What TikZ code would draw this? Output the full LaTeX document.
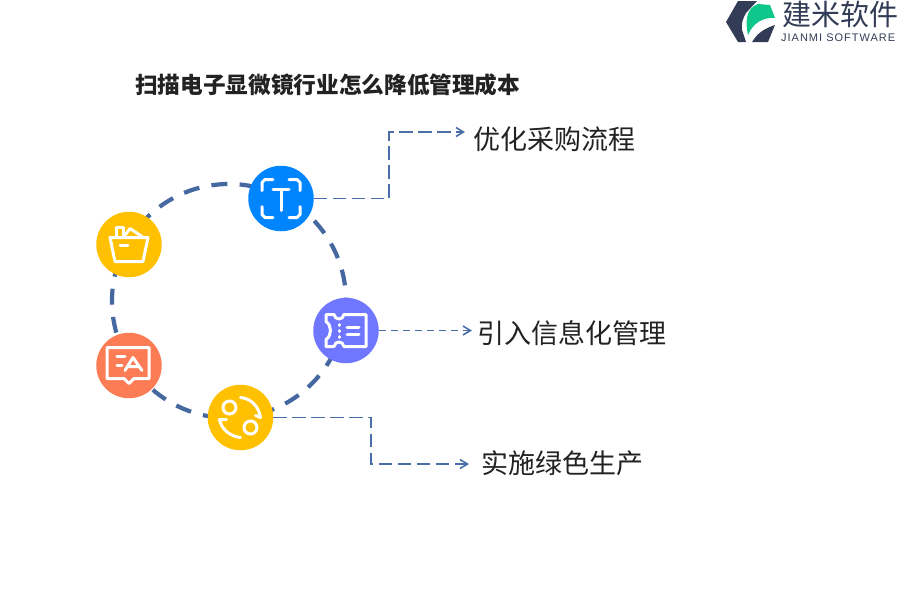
\documentclass[tikz,border=0pt]{standalone}
\usepackage{fontspec}
\setmainfont{Liberation Sans}
\newfontfamily\cjk{Noto Sans CJK SC}
\usetikzlibrary{arrows.meta}
\definecolor{ringc}{HTML}{44689F}
\definecolor{linkc}{HTML}{4A6FA8}
\definecolor{txt}{HTML}{222222}
\definecolor{ylw}{HTML}{FFC000}
\definecolor{blu}{HTML}{0085FF}
\definecolor{vio}{HTML}{6F76FF}
\definecolor{ora}{HTML}{FC7C56}
\definecolor{navy}{HTML}{333C57}
\definecolor{grn}{HTML}{0FC78A}
\tikzset{
 x=1pt,y=-1pt,
 disc/.style={circle,minimum size=65.5pt,inner sep=0pt,fill=#1},
 ring/.style={ringc,line width=4.2pt,dash pattern=on 16pt off 12.3pt,dash phase=4pt},
 arrowlink/.style={linkc,line width=1.6pt,-{Straight Barb[length=7.5pt,width=9pt,line width=1.6pt]}},
 longdash/.style={arrowlink,dash pattern=on 13.5pt off 5.5pt},
 shortdash/.style={arrowlink,dash pattern=on 7pt off 5pt},
 lab/.style={font=\cjk\fontsize{27}{30}\selectfont,text=txt,anchor=west,inner sep=0pt},
 ico/.style={white,line width=3pt,line cap=round,line join=round},
}
\begin{document}
\begin{tikzpicture}
\useasboundingbox (0,0) rectangle (900,600);
\coordinate (c) at (229,301);
\draw[ring] (c) circle[radius=117];
\node[disc=blu] (t) at (281,198.5) {};
\node[disc=ylw] (b) at (129,244.5) {};
\node[disc=vio] (v) at (346,330.5) {};
\node[disc=ora] (a) at (129,365.5) {};
\node[disc=ylw] (g) at (240.5,417.5) {};
\node[lab] (l1) at (473,139.5) {优化采购流程};
\node[lab] (l2) at (477,333.5) {引入信息化管理};
\node[lab] (l3) at (481,463.5) {实施绿色生产};
\node[font=\cjk\bfseries\fontsize{22.65}{26}\selectfont,text=txt,anchor=west,inner sep=0pt] (title) at (135,85) {扫描电子显微镜行业怎么降低管理成本};
\coordinate (e1) at (465,132);
\coordinate (e2) at (472,330.5);
\coordinate (e3) at (469,464);
\draw[longdash] (t.east) -- (389,198.5) -- (389,132) -- (e1);
\draw[shortdash] (v.east) -- (e2);
\draw[longdash] (g.east) -- (371,417.5) -- (371,464) -- (e3);
% T icon
\begin{scope}[shift={(281,198.5)},ico]
\draw (-8,-19)--(-16,-19)--(-19,-16)--(-19,-8);
\draw (8,-19)--(16,-19)--(19,-16)--(19,-8);
\draw (-8,19)--(-16,19)--(-19,16)--(-19,8);
\draw (8,19)--(16,19)--(19,16)--(19,8);
\draw (-8,-9)--(8,-9) (0,-9)--(0,12);
\end{scope}
% basket
\begin{scope}[shift={(129,244.5)},ico]
\draw (-19,-7)--(19,-7)--(14,17)--(-14,17)--cycle;
\draw (-13,-7)--(-13,-17)--(-6,-17)--(-6,-7);
\draw (-5,-8)--(1,-16)--(13,-8);
\draw (-9,1)--(-1,1);
\end{scope}
% ticket
\begin{scope}[shift={(346,330.5)},ico]
\draw (-20,-16)--(-12,-16) .. controls (-11,-10) and (-3,-10) .. (-2,-16)
 --(20,-16)--(20,16)--(-2,16) .. controls (-3,10) and (-11,10) .. (-12,16)
 --(-20,16)--(-20,9) .. controls (-14,5) and (-14,-5) .. (-20,-9) -- cycle;
\draw (-7,-6)--(-7,-5) (-7,0)--(-7,1) (-7,6)--(-7,7);
\draw (1,-3)--(13,-3) (1,4)--(13,4);
\end{scope}
% speech
\begin{scope}[shift={(129,365.5)},ico]
\draw (-22,-18)--(20,-18)--(20,13)--(5,13)--(0,18)--(-5,13)--(-22,13)--cycle;
\draw (-12,-9)--(-4,-9) (-12,0)--(-7,0);
\draw (-4,5)--(4,-8)--(13,5) (-1,1)--(10,1);
\end{scope}
% cycle
\begin{scope}[shift={(240.5,417.5)},ico]
\draw (-11,-10) circle[radius=6.5];
\draw (10,10) circle[radius=6.5];
\draw (0,-20) .. controls (10,-19) and (18,-12) .. (20,0) -- (15,-2);
\draw (0,20) .. controls (-10,19) and (-19,12) .. (-21,2) -- (-14,2);
\end{scope}
% logo
\fill[navy] (726,22)--(738,1)--(757,1)--(746,13) .. controls (743,18) and (741,24) .. (742,30) -- (746,42)--(738,42)--cycle;
\fill[navy] (752,42) .. controls (756,36) and (760,30) .. (775,25)--(768,42)--cycle;
\fill[grn] (748,35) .. controls (745,22) and (746,8) .. (758,4) -- (770,5) -- (775,18) .. controls (763,17) and (753,23) .. (748,35) -- cycle;
\node[font=\cjk\fontsize{29}{30}\selectfont,text=navy,anchor=west,inner sep=0pt] (lg1) at (782,14.5) {建米软件};
\node[font=\addfontfeatures{LetterSpace=9}\fontsize{11}{12}\selectfont,text=navy,anchor=west,inner sep=0pt] (lg2) at (781,38) {JIANMI SOFTWARE};
\end{tikzpicture}
\end{document}
